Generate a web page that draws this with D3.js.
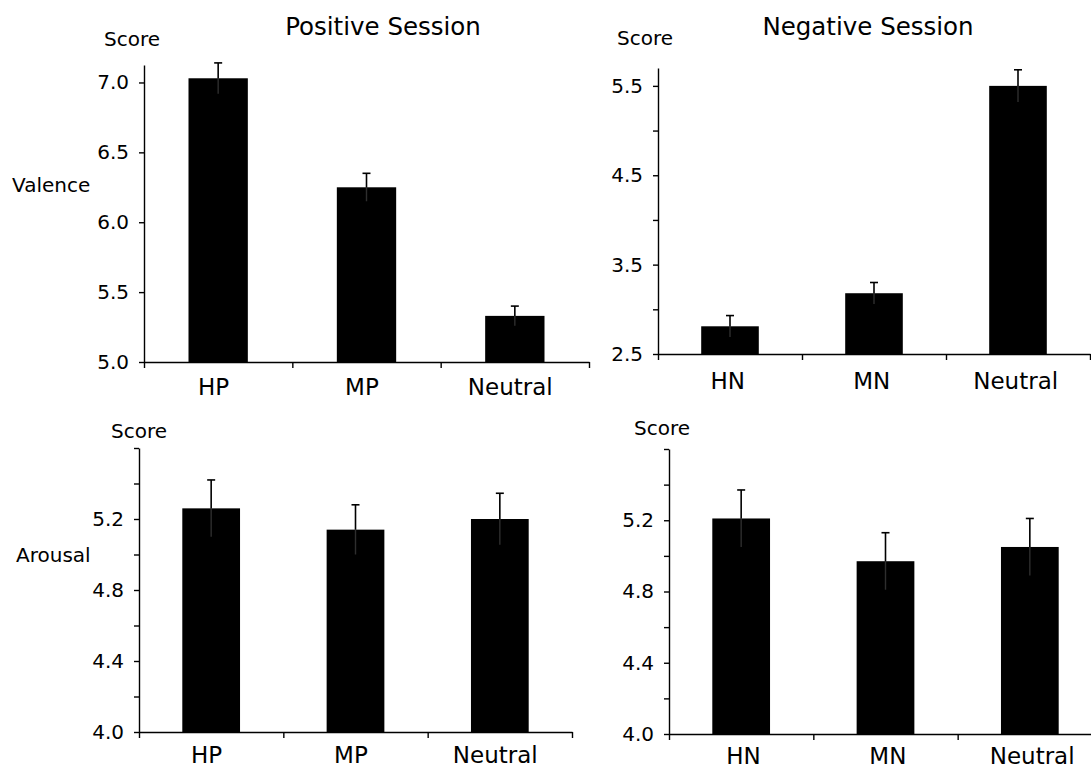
<!DOCTYPE html>
<html>
<head>
<meta charset="utf-8">
<script src="https://cdn.jsdelivr.net/npm/d3@7"></script>
<style>
  body { margin: 0; background: #fff; }
  text { font-family: "DejaVu Sans", Verdana, sans-serif; fill: #000; }
</style>
</head>
<body>
<div id="chart"></div>
<script>
// categories
const posCategories = ["HP", "MP", "Neutral"];
const negCategories = ["HN", "MN", "Neutral"];

// mean scores and error (upper whisker)
const valencePos = [7.03, 6.25, 5.33];
const valencePosErr = [0.11, 0.10, 0.07];
const valenceNeg = [2.81, 3.18, 5.50];
const valenceNegErr = [0.12, 0.12, 0.18];
const arousalPos = [5.26, 5.14, 5.20];
const arousalPosErr = [0.16, 0.14, 0.145];
const arousalNeg = [5.21, 4.97, 5.05];
const arousalNegErr = [0.16, 0.16, 0.16];

// y ticks
const valencePosTicks = [5.0, 5.5, 6.0, 6.5, 7.0];
const valencePosLabels = [5.0, 5.5, 6.0, 6.5, 7.0];
const valenceNegTicks = [2.5, 3.0, 3.5, 4.0, 4.5, 5.0, 5.5];
const valenceNegLabels = [2.5, 3.5, 4.5, 5.5];
const arousalTicks = [4.0, 4.2, 4.4, 4.6, 4.8, 5.0, 5.2, 5.4, 5.6];
const arousalLabels = [4.0, 4.4, 4.8, 5.2];

const width = 1091;
const height = 771;

const svg = d3.select("#chart").append("svg")
  .attr("width", width)
  .attr("height", height);

function drawPanel(opts) {
  const g = svg.append("g");

  const x = d3.scaleBand()
    .domain(opts.categories)
    .range(opts.xRange)
    .paddingInner(0.6)
    .paddingOuter(0.3);

  const y = d3.scaleLinear()
    .domain(opts.yDomain)
    .range(opts.yRange);

  const data = opts.categories.map((c, i) => ({
    cat: c,
    value: opts.values[i],
    err: opts.errors[i],
  }));

  // bars
  g.selectAll("rect.bar")
    .data(data)
    .join("rect")
    .attr("class", "bar")
    .attr("x", (d) => x(d.cat))
    .attr("width", x.bandwidth())
    .attr("y", (d) => y(d.value))
    .attr("height", (d) => y(opts.yDomain[0]) - y(d.value))
    .attr("fill", "#000");

  // error bars: faint lower part inside the bar, black upper part + cap
  const cx = (d) => x(d.cat) + x.bandwidth() / 2;
  g.selectAll("line.err-low")
    .data(data)
    .join("line")
    .attr("x1", cx).attr("x2", cx)
    .attr("y1", (d) => y(d.value - d.err))
    .attr("y2", (d) => y(d.value))
    .attr("stroke", "#2e2e2e")
    .attr("stroke-width", 1.4);
  g.selectAll("line.err-up")
    .data(data)
    .join("line")
    .attr("x1", cx).attr("x2", cx)
    .attr("y1", (d) => y(d.value))
    .attr("y2", (d) => y(d.value + d.err))
    .attr("stroke", "#000")
    .attr("stroke-width", 1.6);
  g.selectAll("line.cap")
    .data(data)
    .join("line")
    .attr("x1", (d) => cx(d) - 4).attr("x2", (d) => cx(d) + 4)
    .attr("y1", (d) => y(d.value + d.err))
    .attr("y2", (d) => y(d.value + d.err))
    .attr("stroke", "#000")
    .attr("stroke-width", 1.6);

  // y axis
  const yAxis = g.append("g")
    .attr("transform", `translate(${opts.xRange[0]},0)`)
    .call(d3.axisLeft(y)
      .tickValues(opts.ticks)
      .tickSize(5)
      .tickSizeOuter(0)
      .tickPadding(10)
      .tickFormat((d) => opts.labels.includes(d) ? d3.format(".1f")(d) : ""));
  yAxis.selectAll("text").style("font-size", "20px").attr("fill", "#000");

  // x axis: boundary ticks
  const xb = d3.scaleLinear().domain([0, 3]).range(opts.xRange);
  const xAxis = g.append("g")
    .attr("transform", `translate(0,${opts.yRange[0]})`)
    .call(d3.axisBottom(xb)
      .tickValues([0, 1, 2, 3])
      .tickSize(6)
      .tickSizeOuter(0)
      .tickFormat(""));

  // x axis: category labels
  const xLab = g.append("g")
    .attr("transform", `translate(0,${opts.yRange[0]})`)
    .call(d3.axisBottom(x).tickSize(0).tickPadding(opts.labelPad));
  xLab.select(".domain").remove();
  xLab.selectAll("text").style("font-size", "23px").attr("dx", opts.labelDx).attr("fill", "#000");

  [yAxis, xAxis].forEach((a) => {
    a.selectAll("path, line").attr("stroke", "#000").attr("stroke-width", 1.4);
  });

  // "Score" label
  g.append("text")
    .attr("x", opts.scoreX)
    .attr("y", opts.scoreY)
    .attr("text-anchor", "middle")
    .style("font-size", "20px")
    .text("Score");

  if (opts.title) {
    g.append("text")
      .attr("x", opts.titleX)
      .attr("y", 35)
      .attr("text-anchor", "middle")
      .style("font-size", "24.5px")
      .text(opts.title);
  }

  if (opts.sideLabel) {
    g.append("text")
      .attr("x", opts.sideX)
      .attr("y", opts.sideY)
      .attr("text-anchor", "start")
      .style("font-size", "20px")
      .text(opts.sideLabel);
  }
}

drawPanel({
  categories: posCategories, values: valencePos, errors: valencePosErr,
  xRange: [144, 589], yRange: [362, 65], yDomain: [5.0, 7.125],
  ticks: valencePosTicks, labels: valencePosLabels, labelPad: 17, labelDx: "-0.2em",
  scoreX: 132, scoreY: 46,
  title: "Positive Session", titleX: 383,
  sideLabel: "Valence", sideX: 12, sideY: 192,
});

drawPanel({
  categories: negCategories, values: valenceNeg, errors: valenceNegErr,
  xRange: [658, 1090], yRange: [354, 68], yDomain: [2.5, 5.7],
  ticks: valenceNegTicks, labels: valenceNegLabels, labelPad: 19, labelDx: "-0.1em",
  scoreX: 645, scoreY: 45,
  title: "Negative Session", titleX: 868,
});

drawPanel({
  categories: posCategories, values: arousalPos, errors: arousalPosErr,
  xRange: [139, 572], yRange: [732, 448], yDomain: [4.0, 5.6],
  ticks: arousalTicks, labels: arousalLabels, labelPad: 15, labelDx: "-0.2em",
  scoreX: 139, scoreY: 438,
  sideLabel: "Arousal", sideX: 16, sideY: 562,
});

drawPanel({
  categories: negCategories, values: arousalNeg, errors: arousalNegErr,
  xRange: [669, 1102], yRange: [734, 449], yDomain: [4.0, 5.6],
  ticks: arousalTicks, labels: arousalLabels, labelPad: 14, labelDx: "0.1em",
  scoreX: 662, scoreY: 435,
});
</script>
</body>
</html>
